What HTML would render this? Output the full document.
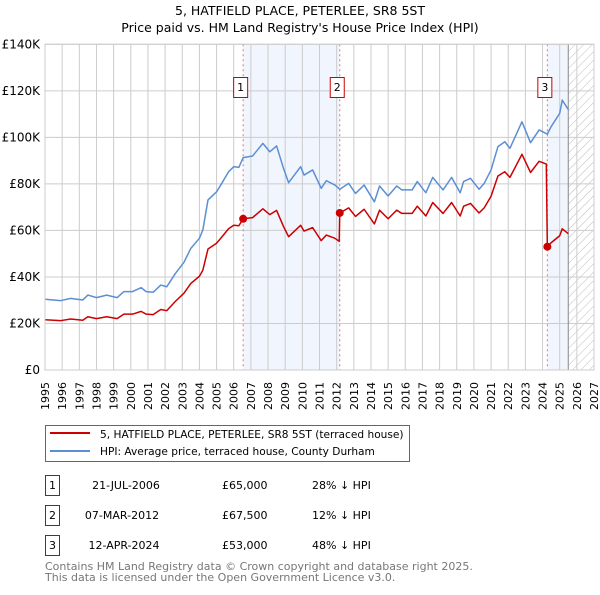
<!DOCTYPE html>
<html><head><meta charset="utf-8"><style>
body{margin:0;background:#fff;font-family:"Liberation Sans","DejaVu Sans",sans-serif;}
svg text{font-family:"DejaVu Sans","Liberation Sans",sans-serif;}
</style></head><body>
<svg id="chart" width="600" height="590" xmlns="http://www.w3.org/2000/svg">
<defs><pattern id="hatch" width="6" height="6" patternUnits="userSpaceOnUse" patternTransform="rotate(45)"><line x1="0" y1="0" x2="0" y2="6" stroke="#bbb" stroke-width="1"/></pattern></defs>
<text x="300" y="15" text-anchor="middle" font-size="12.5">5, HATFIELD PLACE, PETERLEE, SR8 5ST</text>
<text x="300" y="32" text-anchor="middle" font-size="12.5">Price paid vs. HM Land Registry's House Price Index (HPI)</text>
<g id="plot"></g>
<g>
<rect x="45.5" y="425.5" width="364" height="36" fill="#fff" stroke="#666"/>
<line x1="50" y1="433" x2="90" y2="433" stroke="#cc0000" stroke-width="2"/>
<text x="100" y="438" font-size="10.6">5, HATFIELD PLACE, PETERLEE, SR8 5ST (terraced house)</text>
<line x1="50" y1="451" x2="90" y2="451" stroke="#5b8fd4" stroke-width="2"/>
<text x="100" y="455" font-size="10.6">HPI: Average price, terraced house, County Durham</text>
</g>
<g font-size="11">
<rect x="45.5" y="475.5" width="14" height="20" fill="#fff" stroke="#cc0000"/><text x="52.5" y="489" text-anchor="middle">1</text>
<text x="126" y="489" text-anchor="middle">21-JUL-2006</text><text x="222" y="489">£65,000</text><text x="312" y="489">28% ↓ HPI</text>
<rect x="45.5" y="505.5" width="14" height="20" fill="#fff" stroke="#cc0000"/><text x="52.5" y="519" text-anchor="middle">2</text>
<text x="122" y="519" text-anchor="middle">07-MAR-2012</text><text x="222" y="519">£67,500</text><text x="312" y="519">12% ↓ HPI</text>
<rect x="45.5" y="535.5" width="14" height="20" fill="#fff" stroke="#cc0000"/><text x="52.5" y="549" text-anchor="middle">3</text>
<text x="124" y="549" text-anchor="middle">12-APR-2024</text><text x="222" y="549">£53,000</text><text x="312" y="549">48% ↓ HPI</text>
</g>
<text x="45" y="570" font-size="11" fill="#777">Contains HM Land Registry data © Crown copyright and database right 2025.</text>
<text x="45" y="581" font-size="11" fill="#777">This data is licensed under the Open Government Licence v3.0.</text>
</svg>
<script>
const hpiYears=[1995,1995.9,1996.5,1997.2,1997.5,1998,1998.6,1999.2,1999.6,2000.1,2000.6,2000.9,2001.3,2001.75,2002.1,2002.6,2003.1,2003.5,2004,2004.2,2004.5,2005,2005.3,2005.7,2006,2006.3,2006.55,2007.1,2007.7,2008.1,2008.5,2008.9,2009.2,2009.9,2010.1,2010.6,2011.1,2011.4,2011.9,2012.18,2012.7,2013.1,2013.6,2014.2,2014.5,2015,2015.5,2015.8,2016.4,2016.7,2017,2017.2,2017.6,2018.2,2018.7,2019.2,2019.4,2019.8,2020.3,2020.6,2021,2021.4,2021.8,2022.1,2022.8,2023.3,2023.8,2024.28,2024.5,2025,2025.15,2025.5];
const hpiValues=[30.4,29.8,30.8,30.1,32.2,31.1,32.2,31.1,33.7,33.7,35.4,33.7,33.4,36.5,35.8,41.5,46.3,52.3,56.6,60.2,73.1,76.6,80.2,85.2,87.4,87.1,91.3,92,97.4,93.8,96.3,86.7,80.5,87.4,83.8,86,78.1,81.4,79.5,77.7,80.2,75.9,79.5,72.3,79.1,74.8,79.1,77.4,77.4,81,78.1,76.2,82.8,77.4,82.8,76.2,81,82.4,77.7,80.2,86,96,98.1,95.3,106.7,97.7,103.2,101.4,104.6,110.3,116,112];
const priceYears=[1995,1995.9,1996.5,1997.2,1997.5,1998,1998.6,1999.2,1999.6,2000.1,2000.6,2000.9,2001.3,2001.75,2002.1,2002.6,2003.1,2003.5,2004,2004.2,2004.5,2005,2005.3,2005.7,2006,2006.3,2006.55,2007.1,2007.7,2008.1,2008.5,2008.9,2009.2,2009.9,2010.1,2010.6,2011.1,2011.4,2011.9,2012.15,2012.18,2012.7,2013.1,2013.6,2014.2,2014.5,2015,2015.5,2015.8,2016.4,2016.7,2017,2017.2,2017.6,2018.2,2018.7,2019.2,2019.4,2019.8,2020.3,2020.6,2021,2021.4,2021.8,2022.1,2022.8,2023.3,2023.8,2024.22,2024.28,2024.5,2025,2025.15,2025.5];
const priceValues=[21.6,21.2,21.9,21.4,22.9,22.1,22.9,22.1,24,24,25.2,24,23.8,26,25.5,29.5,33,37.2,40.3,42.9,52,54.5,57.1,60.7,62.2,62,65,65.5,69.3,66.8,68.6,61.7,57.3,62.2,59.7,61.2,55.6,58,56.6,55.3,67.5,69.7,66,69.1,62.8,68.7,65,68.7,67.3,67.3,70.4,67.9,66.2,72,67.3,72,66.2,70.4,71.6,67.5,69.7,74.7,83.4,85.2,82.8,92.7,84.9,89.7,88.5,53,54.7,57.7,60.7,58.6];
const saleYears=[2006.55,2012.18,2024.28];
const saleValues=[65,67.5,53];
const saleLabels=["1","2","3"];
const yTicks=[0,20,40,60,80,100,120,140];
const yTickLabels=["£0","£20K","£40K","£60K","£80K","£100K","£120K","£140K"];
const xTicks=[1995,1996,1997,1998,1999,2000,2001,2002,2003,2004,2005,2006,2007,2008,2009,2010,2011,2012,2013,2014,2015,2016,2017,2018,2019,2020,2021,2022,2023,2024,2025,2026,2027];

const L=45,R=594,T=44.3,B=370,X0=1995,X1=2027,YMAX=140;
const sx=v=>L+(v-X0)/(X1-X0)*(R-L);
const sy=v=>B-v/YMAX*(B-T);
const NS="http://www.w3.org/2000/svg";
const g=document.getElementById('plot');
function mk(tag,attrs){const e=document.createElementNS(NS,tag);for(const k in attrs)e.setAttribute(k,attrs[k]);g.appendChild(e);return e;}
let e=mk('rect',{x:sx(saleYears[0]),y:T,width:sx(saleYears[1])-sx(saleYears[0]),height:B-T,fill:'#eef3fc',opacity:0.8});


e=mk('rect',{x:sx(saleYears[2]),y:T,width:sx(2025.5)-sx(saleYears[2]),height:B-T,fill:'#eef3fc',opacity:0.8});


e=mk('rect',{x:sx(2025.5),y:T,width:R-sx(2025.5),height:B-T,fill:'url(#hatch)'});


xTicks.forEach(t=>{
 const l=mk('line',{x1:sx(t),x2:sx(t),y1:T,y2:B,stroke:'#ccc','stroke-width':1});
 
 
 const tx=mk('text',{x:0,y:0,'font-size':11,'text-anchor':'end',transform:`translate(${sx(t)+4},${B+12}) rotate(-90)`});
 tx.textContent=t;
 
 
});
yTicks.forEach((t,i)=>{
 const l=mk('line',{x1:L,x2:R,y1:sy(t),y2:sy(t),stroke:'#ccc','stroke-width':1});
 
 
 const tx=mk('text',{x:L-5,y:sy(t)+4,'font-size':12,'text-anchor':'end'});
 tx.textContent=yTickLabels[i];
 
 
});
e=mk('line',{x1:sx(2025.5),x2:sx(2025.5),y1:T,y2:B,stroke:'#888','stroke-width':1});


saleYears.forEach((y,i)=>{
 const l=mk('line',{x1:sx(y),x2:sx(y),y1:T,y2:B,stroke:'#f07070','stroke-width':1,'stroke-dasharray':'2,3'});
 
 
 const r=mk('rect',{x:sx(y)-9.5,y:77.5,width:14,height:20,fill:'#fff',stroke:'#cc0000'});
 
 
 const t=mk('text',{x:sx(y)-2.5,y:91,'font-size':11,'text-anchor':'middle'});
 t.textContent=saleLabels[i];
 
 
});
function line(xs,vs,color,name){
 const p=mk('polyline',{points:xs.map((x,i)=>sx(x)+','+sy(vs[i])).join(' '),fill:'none',stroke:color,'stroke-width':1.5,'stroke-linejoin':'round'});
 
 
}
line(hpiYears,hpiValues,'#5b8fd4','hpi-line');
line(priceYears,priceValues,'#cc0000','price-paid-line');
saleYears.forEach((y,i)=>{
 const c=mk('circle',{cx:sx(y),cy:sy(saleValues[i]),r:4,fill:'#cc0000'});
 
 
});
e=mk('rect',{x:L,y:T,width:R-L,height:B-T,fill:'none',stroke:'#ccc'});


</script>
</body></html>
